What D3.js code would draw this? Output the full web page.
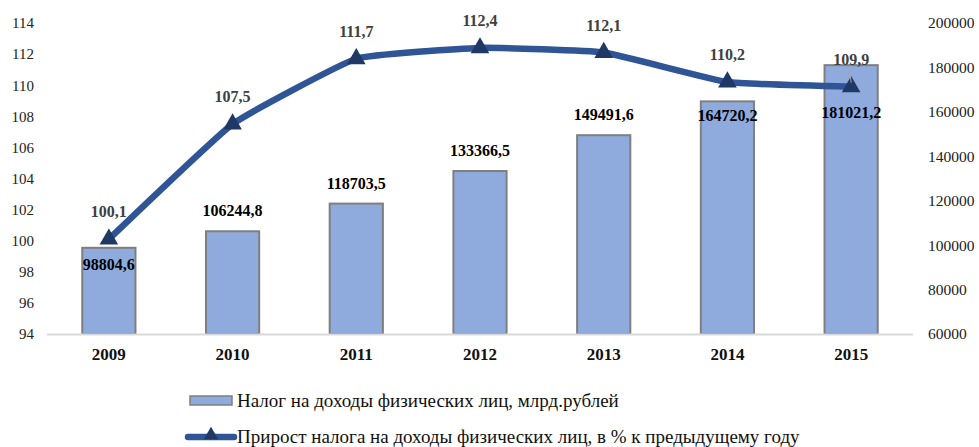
<!DOCTYPE html>
<html>
<head>
<meta charset="utf-8">
<script src="https://cdn.jsdelivr.net/npm/d3@7"></script>
<style>
  body { margin: 0; background: #fff; }
  svg text { font-family: 'Liberation Serif', 'Times New Roman', 'DejaVu Serif', serif !important; }
</style>
</head>
<body>
<div class="chart"></div>
<script>
const years = ["2009", "2010", "2011", "2012", "2013", "2014", "2015"];
const taxValues = [98804.6, 106244.8, 118703.5, 133366.5, 149491.6, 164720.2, 181021.2];
const growthValues = [100.1, 107.5, 111.7, 112.4, 112.1, 110.2, 109.9];
const leftTicks = [94, 96, 98, 100, 102, 104, 106, 108, 110, 112, 114];
const rightTicks = [60000, 80000, 100000, 120000, 140000, 160000, 180000, 200000];
const seriesNames = [
  "Налог на доходы физических лиц, млрд.рублей",
  "Прирост налога на доходы физических лиц, в % к предыдущему году"
];

const width = 979, height = 447;
const margin = { top: 23, bottom: 113, left: 47, right: 66 };

const fmt = v => String(v).replace(".", ",");

const svg = d3.select(".chart").append("svg")
  .attr("width", width)
  .attr("height", height);

const x = d3.scaleBand()
  .domain(years)
  .range([margin.left, width - margin.right])
  .paddingInner(0.57)
  .paddingOuter(0.285);

const yLeft = d3.scaleLinear()
  .domain([94, 114])
  .range([height - margin.bottom, margin.top]);

const yRight = d3.scaleLinear()
  .domain([60000, 200000])
  .range([height - margin.bottom, margin.top]);

const cx = d => x(d) + x.bandwidth() / 2;

// left axis
svg.append("g")
  .attr("transform", `translate(34,0)`)
  .call(d3.axisLeft(yLeft).tickValues(leftTicks).tickSize(0).tickPadding(0))
  .call(g => g.select(".domain").remove())
  .selectAll("text")
  .attr("font-size", 15)
  .attr("fill", "#222");

// right axis
svg.append("g")
  .attr("transform", `translate(${width - margin.right + 15},0)`)
  .call(d3.axisRight(yRight).tickValues(rightTicks).tickFormat(d3.format("d")).tickSize(0).tickPadding(0))
  .call(g => g.select(".domain").remove())
  .selectAll("text")
  .attr("font-size", 15.5)
  .attr("fill", "#222");

// bars
svg.append("g")
  .selectAll("rect")
  .data(years)
  .join("rect")
  .attr("x", d => x(d))
  .attr("width", x.bandwidth())
  .attr("y", (d, i) => yRight(taxValues[i]))
  .attr("height", (d, i) => yRight(60000) - yRight(taxValues[i]))
  .attr("fill", "#8FAADC")
  .attr("stroke", "#7F7F7F")
  .attr("stroke-width", 2);

// baseline
svg.append("line")
  .attr("x1", margin.left)
  .attr("x2", width - margin.right)
  .attr("y1", yLeft(94) + 0.5)
  .attr("y2", yLeft(94) + 0.5)
  .attr("stroke", "#D9D9D9")
  .attr("stroke-width", 2);

// x labels
svg.append("g")
  .attr("transform", `translate(0,${yLeft(94)})`)
  .call(d3.axisBottom(x).tickSize(0).tickPadding(14))
  .call(g => g.select(".domain").remove())
  .selectAll("text")
  .attr("font-size", 17)
  .attr("font-weight", "bold")
  .attr("fill", "#111");

// line
const line = d3.line()
  .x(d => cx(d.year))
  .y(d => yLeft(d.v))
  .curve(d3.curveCardinal.tension(0.65));

const pts = years.map((year, i) => ({ year, v: growthValues[i], tax: taxValues[i] }));

svg.append("path")
  .datum(pts)
  .attr("d", line)
  .attr("fill", "none")
  .attr("stroke", "#2F5597")
  .attr("stroke-width", 6.5)
  .attr("stroke-linecap", "round");

const tri = d3.symbol().type(d3.symbolTriangle).size(150);

svg.append("g")
  .selectAll("path")
  .data(pts)
  .join("path")
  .attr("transform", d => `translate(${cx(d.year)},${yLeft(d.v)})`)
  .attr("d", tri)
  .attr("fill", "#1F3864");

// leader line for the last growth label
const last = pts[pts.length - 1];
svg.append("line")
  .attr("x1", cx(last.year) - 2)
  .attr("x2", cx(last.year))
  .attr("y1", yLeft(last.v) - 21)
  .attr("y2", yLeft(last.v) - 4)
  .attr("stroke", "#A6A6A6")
  .attr("stroke-width", 1);

// growth labels
svg.append("g")
  .selectAll("text")
  .data(pts)
  .join("text")
  .attr("x", d => cx(d.year))
  .attr("y", d => yLeft(d.v) - 22)
  .attr("text-anchor", "middle")
  .attr("font-size", 16)
  .attr("font-weight", "bold")
  .attr("fill", "#404040")
  .text(d => fmt(d.v));

// bar labels: above the bar, or inside under the marker when the line is close
svg.append("g")
  .selectAll("text")
  .data(pts)
  .join("text")
  .attr("x", d => cx(d.year))
  .attr("y", d => {
    const top = yRight(d.tax), ly = yLeft(d.v);
    return (top - ly < 30) ? Math.max(top + 20, ly + 31) : top - 15;
  })
  .attr("text-anchor", "middle")
  .attr("font-size", 16)
  .attr("font-weight", "bold")
  .attr("fill", "#000")
  .text(d => fmt(d.tax));

// legend
const legend = svg.append("g");

legend.append("rect")
  .attr("x", 190)
  .attr("y", 396)
  .attr("width", 42)
  .attr("height", 9)
  .attr("fill", "#8FAADC")
  .attr("stroke", "#7F7F7F")
  .attr("stroke-width", 1.5);

legend.append("text")
  .attr("x", 237)
  .attr("y", 407)
  .attr("font-size", 19)
  .attr("fill", "#111")
  .text(seriesNames[0]);

legend.append("line")
  .attr("x1", 188)
  .attr("x2", 234)
  .attr("y1", 437)
  .attr("y2", 437)
  .attr("stroke", "#2F5597")
  .attr("stroke-width", 6.5)
  .attr("stroke-linecap", "round");

legend.append("path")
  .attr("transform", "translate(211,435)")
  .attr("d", d3.symbol().type(d3.symbolTriangle).size(90))
  .attr("fill", "#1F3864");

legend.append("text")
  .attr("x", 237)
  .attr("y", 443)
  .attr("font-size", 19)
  .attr("fill", "#111")
  .text(seriesNames[1]);
</script>
</body>
</html>
